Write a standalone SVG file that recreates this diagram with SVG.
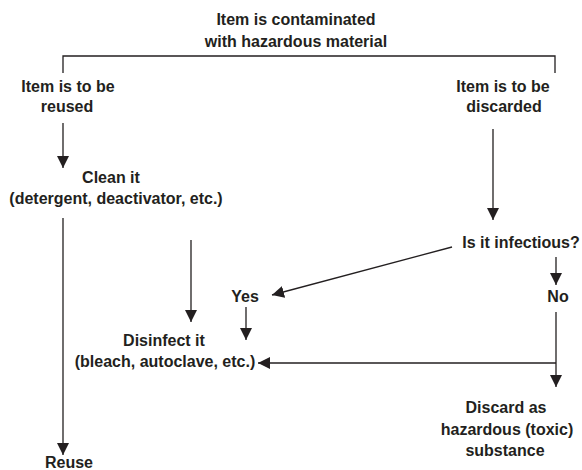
<svg xmlns="http://www.w3.org/2000/svg" width="582" height="470" viewBox="0 0 582 470">
<defs>
<marker id="ah" markerUnits="userSpaceOnUse" markerWidth="12" markerHeight="12" viewBox="0 0 12 12" refX="12" refY="6" orient="auto">
<path d="M0,0 L12,6 L0,12 Z" fill="#231f20"/>
</marker>
<style>
text{font-family:"Liberation Sans",Arial,sans-serif;font-weight:bold;font-size:16px;fill:#231f20;text-anchor:middle}
.ln{stroke:#231f20;stroke-width:1.3;fill:none}
.ar{marker-end:url(#ah)}
</style>
</defs>
<rect width="582" height="470" fill="#fff"/>
<g id="connectors">
<path class="ln" d="M63,73 V56 H555 V73"/>
<line class="ln ar" x1="63" y1="123" x2="63" y2="168"/>
<line class="ln ar" x1="63" y1="218" x2="63" y2="455"/>
<line class="ln ar" x1="191" y1="240" x2="191" y2="322"/>
<line class="ln ar" x1="493" y1="129" x2="493" y2="220"/>
<line class="ln ar" x1="452" y1="247" x2="272" y2="295"/>
<line class="ln ar" x1="556" y1="257" x2="556" y2="285"/>
<line class="ln ar" x1="246" y1="307" x2="246" y2="340"/>
<line class="ln ar" x1="556" y1="312" x2="556" y2="387"/>
<line class="ln ar" x1="556" y1="363" x2="258" y2="363"/>
</g>
<g id="n-contaminated"><text x="296" y="25">Item is contaminated</text><text x="296" y="47">with hazardous material</text></g>
<g id="n-reused"><text x="68" y="92">Item is to be</text><text x="67" y="112">reused</text></g>
<g id="n-discarded"><text x="503" y="92">Item is to be</text><text x="504" y="112">discarded</text></g>
<g id="n-clean"><text x="111" y="183">Clean it</text><text x="116" y="204">(detergent, deactivator, etc.)</text></g>
<g id="n-infectious"><text x="521" y="248">Is it infectious?</text></g>
<g id="n-yes"><text x="245" y="302">Yes</text></g>
<g id="n-no"><text x="558" y="302">No</text></g>
<g id="n-disinfect"><text x="164" y="346">Disinfect it</text><text x="165" y="367">(bleach, autoclave, etc.)</text></g>
<g id="n-discard"><text x="506" y="413">Discard as</text><text x="507" y="435">hazardous (toxic)</text><text x="505" y="456">substance</text></g>
<g id="n-reuse"><text x="69" y="468">Reuse</text></g>
</svg>
